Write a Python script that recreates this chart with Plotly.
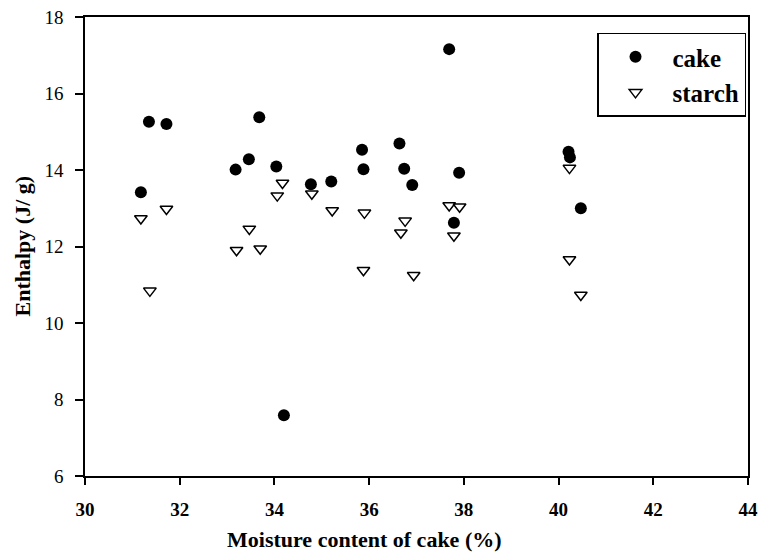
import plotly.graph_objects as go

# Cake enthalpy vs moisture
cake_x = [31.18, 31.35, 31.72, 33.18, 33.46, 33.68, 34.04, 34.20, 34.77, 35.20,
          35.85, 35.88, 36.64, 36.74, 36.91, 37.69, 37.79, 37.90, 40.21, 40.24, 40.47]
cake_y = [13.42, 15.26, 15.20, 14.01, 14.28, 15.38, 14.09, 7.59, 13.63, 13.70,
          14.53, 14.02, 14.69, 14.03, 13.61, 17.16, 12.62, 13.93, 14.48, 14.33, 13.00]

# Starch enthalpy vs moisture
starch_x = [31.18, 31.37, 31.72, 33.20, 33.47, 33.70, 34.06, 34.17, 34.79, 35.22,
            35.88, 35.90, 36.67, 36.76, 36.94, 37.69, 37.79, 37.91, 40.23, 40.23, 40.47]
starch_y = [12.73, 10.84, 12.98, 11.90, 12.46, 11.94, 13.33, 13.66, 13.38, 12.94,
            11.38, 12.88, 12.36, 12.67, 11.25, 13.07, 12.28, 13.04, 14.05, 11.66, 10.73]

x_ticks = [30, 32, 34, 36, 38, 40, 42, 44]
y_ticks = [6, 8, 10, 12, 14, 16, 18]

SERIF = "Liberation Serif, Times New Roman, serif"

fig = go.Figure()
fig.add_trace(go.Scatter(
    x=cake_x, y=cake_y, mode="markers", name="cake",
    marker=dict(symbol="circle", size=12, color="black", line=dict(width=0)),
))
fig.add_trace(go.Scatter(
    x=starch_x, y=starch_y, mode="markers", name="starch",
    marker=dict(symbol="triangle-down-open", size=11, color="black",
                line=dict(width=1.5, color="black")),
))

fig.update_layout(
    width=758, height=555,
    margin=dict(l=85, r=10, t=16.5, b=79, autoexpand=False),
    paper_bgcolor="white", plot_bgcolor="white",
    font=dict(family=SERIF, color="black"),
    showlegend=True,
    legend=dict(
        x=0.997, y=0.966, xanchor="right", yanchor="top",
        bordercolor="black", borderwidth=1.5, bgcolor="white",
        font=dict(family=SERIF, size=25, weight="bold", color="black"),
        itemwidth=64,
    ),
    xaxis=dict(
        range=[30, 44], tickvals=x_ticks, ticktext=[str(v) for v in x_ticks],
        showgrid=False, zeroline=False, automargin=False,
        showline=True, linecolor="black", linewidth=1.5, mirror=True,
        ticks="outside", ticklen=7, tickwidth=1.5, tickcolor="black",
        tickfont=dict(family=SERIF, size=19, weight="bold", color="black"),
        ticklabeloverflow="allow", ticklabelstandoff=8,
    ),
    yaxis=dict(
        range=[6, 18], tickvals=y_ticks, ticktext=[str(v) for v in y_ticks],
        showgrid=False, zeroline=False, automargin=False,
        showline=True, linecolor="black", linewidth=1.5, mirror=True,
        ticks="outside", ticklen=8, tickwidth=1.5, tickcolor="black",
        tickfont=dict(family=SERIF, size=19, color="black"),
        ticklabeloverflow="allow", ticklabelstandoff=8,
    ),
    annotations=[
        dict(text="Moisture content of cake (%)", xref="paper", yref="paper",
             x=0.421, y=-0.139, xanchor="center", yanchor="middle", showarrow=False,
             font=dict(family=SERIF, size=22, weight="bold", color="black")),
        dict(text="Enthalpy (J/ g)", xref="paper", yref="paper",
             x=-0.095, y=0.5, xanchor="center", yanchor="middle", showarrow=False,
             textangle=-90,
             font=dict(family=SERIF, size=22, weight="bold", color="black")),
    ],
)

fig.write_html(
    "out.html",
    config={"displayModeBar": False},
    post_script="document.body.style.margin='0';document.body.style.overflow='hidden';",
)
